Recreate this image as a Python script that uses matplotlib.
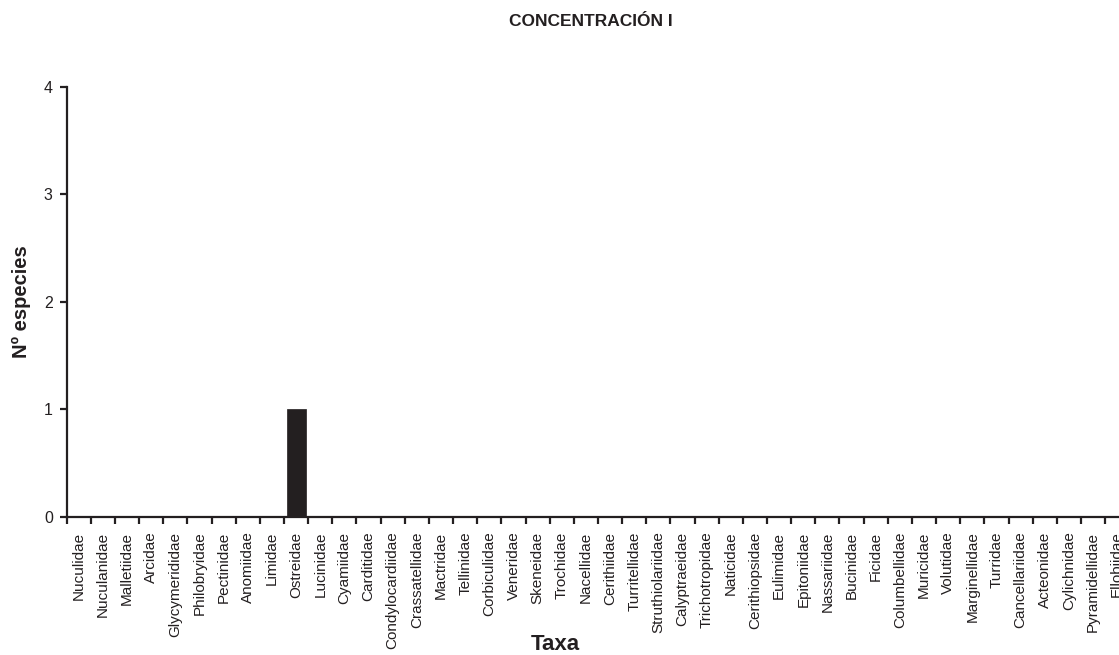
import numpy as np
import matplotlib
matplotlib.use("Agg")
import matplotlib.pyplot as plt
from matplotlib.ticker import FixedLocator

plt.rcParams['font.family'] = ['Liberation Sans', 'DejaVu Sans']

taxa = [
    "Nuculidae", "Nuculanidae", "Malletiidae", "Arcidae", "Glycymerididae",
    "Philobryidae", "Pectinidae", "Anomiidae", "Limidae", "Ostreidae",
    "Lucinidae", "Cyamiidae", "Carditidae", "Condylocardiidae", "Crassatellidae",
    "Mactridae", "Tellinidae", "Corbiculidae", "Veneridae", "Skeneidae",
    "Trochidae", "Nacellidae", "Cerithiidae", "Turritellidae", "Struthiolariidae",
    "Calyptraeidae", "Trichotropidae", "Naticidae", "Cerithiopsidae", "Eulimidae",
    "Epitoniidae", "Nassariidae", "Bucinidae", "Ficidae", "Columbellidae",
    "Muricidae", "Volutidae", "Marginellidae", "Turridae", "Cancellariidae",
    "Acteonidae", "Cylichnidae", "Pyramidellidae", "Ellobiidae",
]
n_especies = [0, 0, 0, 0, 0, 0, 0, 0, 0, 1,
              0, 0, 0, 0, 0, 0, 0, 0, 0, 0,
              0, 0, 0, 0, 0, 0, 0, 0, 0, 0,
              0, 0, 0, 0, 0, 0, 0, 0, 0, 0,
              0, 0, 0, 0]
y_ticks = [0, 1, 2, 3, 4]

dark = "#231f20"

fig = plt.figure(figsize=(11.19, 6.55), dpi=100)
ax = fig.add_axes([0.0596, 0.2107, 0.9496, 0.6565])

x = np.arange(len(taxa))
ax.bar(x, n_especies, width=0.78, color=dark, edgecolor=dark, linewidth=0.5)

ax.set_xlim(-0.5, len(taxa) - 0.5)
ax.set_ylim(0, 4)
ax.set_yticks(y_ticks)

ax.set_xticks(x)
ax.set_xticklabels(taxa, rotation=90, fontsize=11, color=dark)
ax.xaxis.set_minor_locator(FixedLocator(np.arange(-0.5, len(taxa), 1.0)))
ax.tick_params(axis='x', which='major', length=0, pad=10.5)
ax.tick_params(axis='x', which='minor', length=5, width=1.6, color=dark, direction='out')
ax.tick_params(axis='y', length=5, width=1.6, color=dark, labelsize=11.5,
               labelcolor=dark, pad=5)

for s in ['top', 'right']:
    ax.spines[s].set_visible(False)
for s in ['left', 'bottom']:
    ax.spines[s].set_linewidth(1.6)
    ax.spines[s].set_color(dark)

fig.text(591 / 1119, 1 - 21 / 655, "CONCENTRACIÓN I", ha='center', va='center',
         fontsize=12.5, fontweight='bold', color=dark)
fig.text(21 / 1119, 1 - 302 / 655, "Nº especies", rotation=90, ha='center',
         va='center', fontsize=14.5, fontweight='bold', color=dark)
fig.text(555 / 1119, 1 - 644 / 655, "Taxa", ha='center', va='center',
         fontsize=16, fontweight='bold', color=dark)

fig.savefig("out.png", dpi=100)
